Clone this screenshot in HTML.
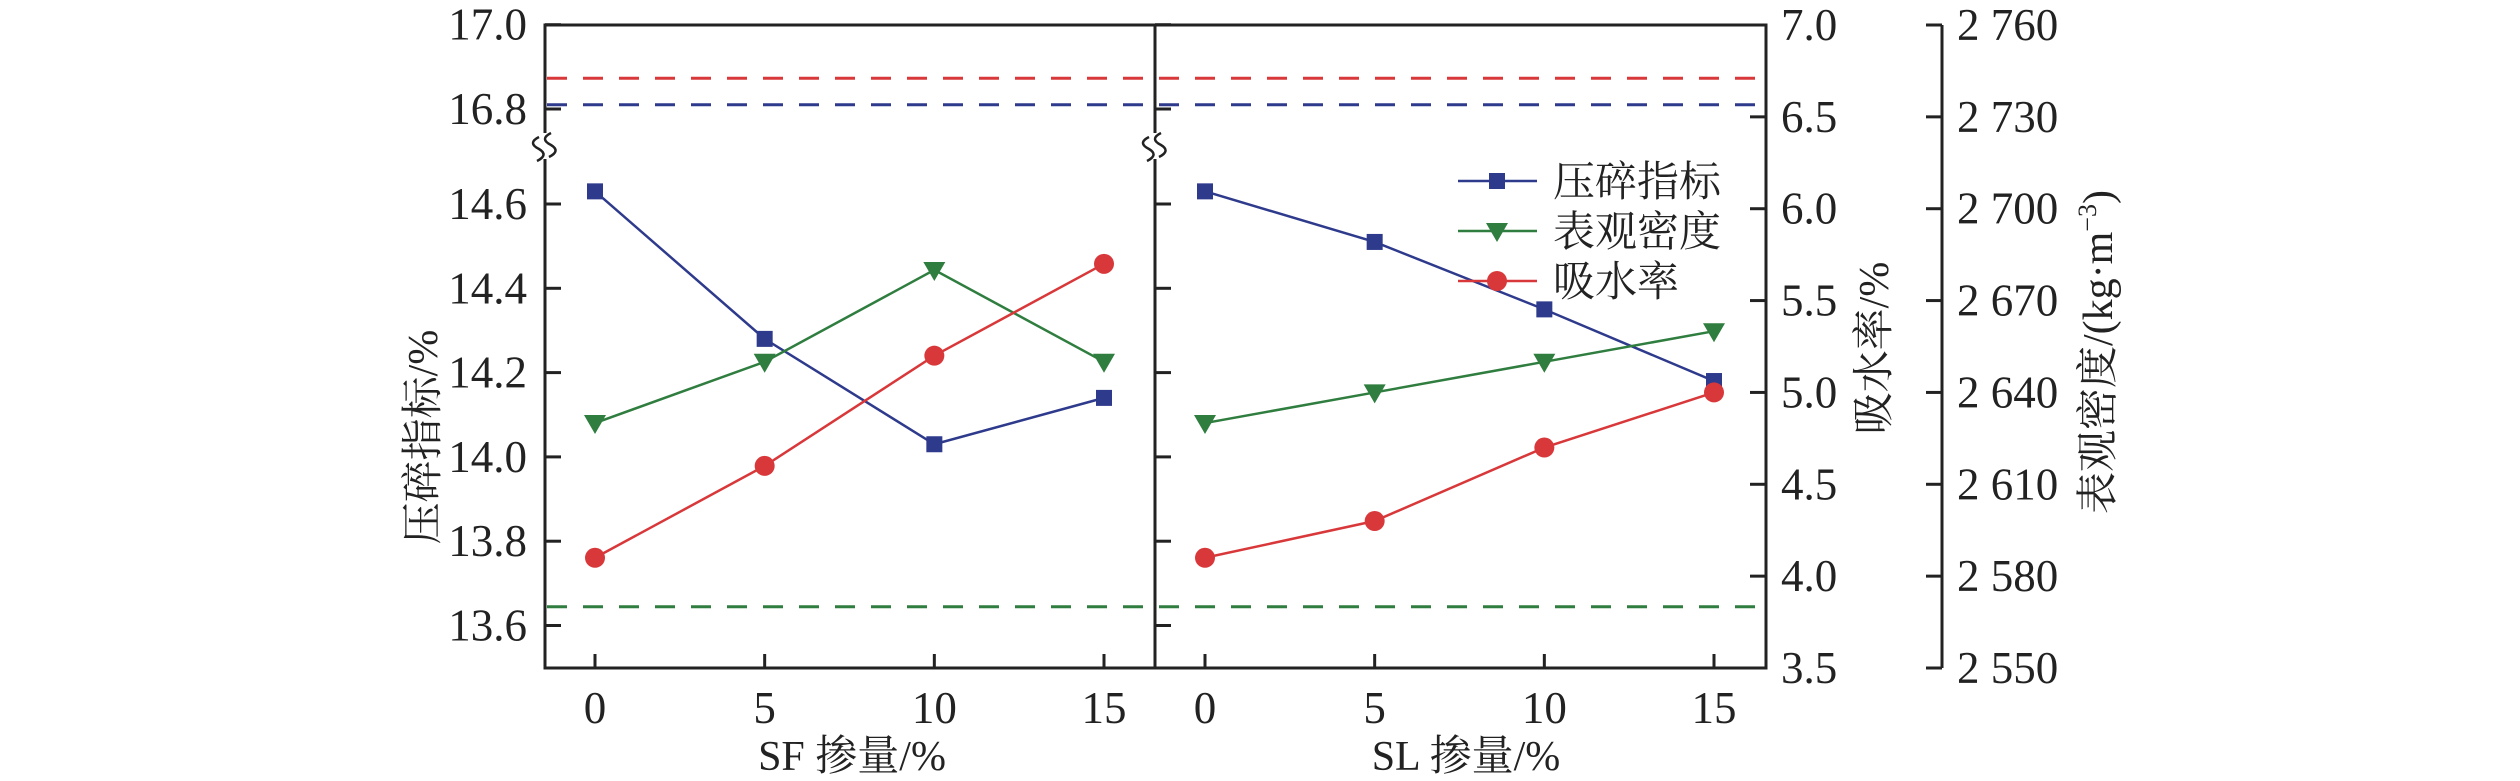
<!DOCTYPE html>
<html><head><meta charset="utf-8"><style>
html,body{margin:0;padding:0;background:#fff;}
svg{display:block;}
text{font-family:"Liberation Serif","Noto Serif CJK SC","Noto Sans CJK SC",serif;fill:#222;}
</style></head><body>
<svg id="chart" width="2520" height="781" viewBox="0 0 2520 781" xmlns="http://www.w3.org/2000/svg">
<g id="frame"></g>
<g id="marks"></g>
<g id="labels"></g>
</svg>
<script>
const categories = [0, 5, 10, 15];
const xTickLabels = ["0", "5", "10", "15"];
const sfCrush = [14.63, 14.28, 14.03, 14.14];
const sfDensity = [2630, 2650, 2680, 2650];
const sfWater = [4.10, 4.60, 5.20, 5.70];
const slCrush = [14.63, 14.51, 14.35, 14.18];
const slDensity = [2630, 2640, 2650, 2660];
const slWater = [4.10, 4.30, 4.70, 5.00];
const refCrush = 16.81;
const refWater = 6.71;
const refDensity = 2570;
const leftTicks = [13.6, 13.8, 14.0, 14.2, 14.4, 14.6, 16.8, 17.0];
const leftTickLabels = ["13.6", "13.8", "14.0", "14.2", "14.4", "14.6", "16.8", "17.0"];
const waterTicks = [3.5, 4.0, 4.5, 5.0, 5.5, 6.0, 6.5, 7.0];
const waterTickLabels = ["3.5", "4.0", "4.5", "5.0", "5.5", "6.0", "6.5", "7.0"];
const densTicks = [2550, 2580, 2610, 2640, 2670, 2700, 2730, 2760];
const densTickLabels = ["2 550", "2 580", "2 610", "2 640", "2 670", "2 700", "2 730", "2 760"];

const NS = "http://www.w3.org/2000/svg";
const TOP = 25, BOT = 668, L = 545, MID = 1155, R = 1766, DAX = 1942;
const BLUE = "#2e3a8c", GREEN = "#2f7d3f", RED = "#d9383a";
const TF = 45;
function yCrush(v){ return v > 15.5 ? 109 + (16.8 - v) * 421.5 : 204 + (14.6 - v) * 421.5; }
function yWater(v){ return BOT - (v - 3.5) / 3.5 * (BOT - TOP); }
function yDens(v){ return BOT - (v - 2550) / 210 * (BOT - TOP); }
function xLeft(c){ return 595 + c / 15 * 509; }
function xRight(c){ return 1205 + c / 15 * 509; }
function mk(tag, attrs, parent){ const e = document.createElementNS(NS, tag); for (const k in attrs) e.setAttribute(k, attrs[k]); parent.appendChild(e); return e; }
const frame = document.getElementById('frame');
const marks = document.getElementById('marks');
const labels = document.getElementById('labels');

let box = mk('path', {d:`M${L},${TOP} H${R} V${BOT} H${L} Z M${MID},${TOP} V${BOT}`, fill:'none', stroke:'#222', 'stroke-width':3}, frame);


let dax = mk('line', {x1:DAX, y1:TOP, x2:DAX, y2:BOT, stroke:'#222', 'stroke-width':3}, frame);



[L, MID].forEach(function(x){
  mk('rect', {x:x-12, y:133, width:24, height:26, fill:'#fff'}, frame);
  const b = mk('path', {d:`M${x-6},137 q-12,6 0,12 q10,6 -2,12 M${x+6},133 q-12,6 0,12 q10,6 -2,12`, fill:'none', stroke:'#222', 'stroke-width':2.5}, frame);
  
  
});

leftTicks.forEach(function(v, i){
  const y = yCrush(v);
  mk('line', {x1:L, y1:y, x2:L+16, y2:y, stroke:'#222', 'stroke-width':3}, frame);
  mk('line', {x1:MID, y1:y, x2:MID+16, y2:y, stroke:'#222', 'stroke-width':3}, frame);
  const t = mk('text', {x:527, y:y+15, 'font-size':TF, 'text-anchor':'end'}, labels);
  t.textContent = leftTickLabels[i];
  
  
});
waterTicks.forEach(function(v, i){
  const y = yWater(v);
  mk('line', {x1:R-16, y1:y, x2:R, y2:y, stroke:'#222', 'stroke-width':3}, frame);
  const t = mk('text', {x:1781, y:y+15, 'font-size':TF}, labels);
  t.textContent = waterTickLabels[i];
  
  
});
densTicks.forEach(function(v, i){
  const y = yDens(v);
  mk('line', {x1:DAX-16, y1:y, x2:DAX, y2:y, stroke:'#222', 'stroke-width':3}, frame);
  const t = mk('text', {x:1957, y:y+15, 'font-size':TF}, labels);
  t.textContent = densTickLabels[i];
  
  
});
categories.forEach(function(c, i){
  [xLeft(c), xRight(c)].forEach(function(x){
    mk('line', {x1:x, y1:BOT, x2:x, y2:BOT-14, stroke:'#222', 'stroke-width':3}, frame);
    const t = mk('text', {x:x, y:723, 'font-size':TF, 'text-anchor':'middle'}, labels);
    t.textContent = xTickLabels[i];
    
    
  });
});

function dash(y, color, name){
  const d = mk('line', {x1:L+2, y1:y, x2:R-2, y2:y, stroke:color, 'stroke-width':3, 'stroke-dasharray':'20 16'}, marks);
  
  
}
dash(yWater(refWater), RED, 'water-reference-line');
dash(yCrush(refCrush), BLUE, 'crush-reference-line');
dash(yDens(refDensity), GREEN, 'density-reference-line');

function marker(type, x, y, color){
  if (type === 'sq') return mk('rect', {x:x-8, y:y-8, width:16, height:16, fill:color}, marks);
  if (type === 'tri') return mk('path', {d:`M${x-11},${y-8} L${x+11},${y-8} L${x},${y+11} Z`, fill:color}, marks);
  return mk('circle', {cx:x, cy:y, r:10, fill:color}, marks);
}
function series(vals, xf, yf, color, type, name){
  const pts = vals.map(function(v, i){ return [xf(categories[i]), yf(v)]; });
  const p = mk('polyline', {points:pts.map(function(p){return p.join(',');}).join(' '), fill:'none', stroke:color, 'stroke-width':2.5}, marks);
  
  
  pts.forEach(function(pt){
    const m = marker(type, pt[0], pt[1], color);
    
    
  });
}
series(sfCrush, xLeft, yCrush, BLUE, 'sq', 'sf-crush');
series(sfDensity, xLeft, yDens, GREEN, 'tri', 'sf-density');
series(sfWater, xLeft, yWater, RED, 'circ', 'sf-water');
series(slCrush, xRight, yCrush, BLUE, 'sq', 'sl-crush');
series(slDensity, xRight, yDens, GREEN, 'tri', 'sl-density');
series(slWater, xRight, yWater, RED, 'circ', 'sl-water');

const legendNames = ["压碎指标", "表观密度", "吸水率"];
const legendColors = [BLUE, GREEN, RED];
const legendTypes = ['sq', 'tri', 'circ'];
legendNames.forEach(function(n, i){
  const y = 181 + i * 50;
  const g = mk('g', {}, marks);
  
  
  mk('line', {x1:1458, y1:y, x2:1537, y2:y, stroke:legendColors[i], 'stroke-width':2.5}, g);
  const m = marker(legendTypes[i], 1497, y, legendColors[i]);
  g.appendChild(m);
  const t = mk('text', {x:1553, y:y+15, 'font-size':42}, g);
  t.textContent = n;
});

function title(txt, x, y, rot, name){
  const t = mk('text', {x:x, y:y, 'font-size':42, 'text-anchor':'middle', transform: rot ? `rotate(-90 ${x} ${y})` : ''}, labels);
  t.textContent = txt;
  
  
}
title('压碎指标/%', 437, 437, true, 'left-y-axis-title');
title('吸水率/%', 1888, 348, true, 'water-y-axis-title');
title('SF 掺量/%', 852, 770, false, 'sf-x-axis-title');
title('SL 掺量/%', 1466, 770, false, 'sl-x-axis-title');
const dt = mk('text', {x:2112, y:352, 'font-size':42, 'text-anchor':'middle', transform:'rotate(-90 2112 352)'}, labels);


dt.innerHTML = '表观密度/(kg·m<tspan dy="-16" font-size="26">−3</tspan><tspan dy="16">)</tspan>';
</script>
</body></html>
